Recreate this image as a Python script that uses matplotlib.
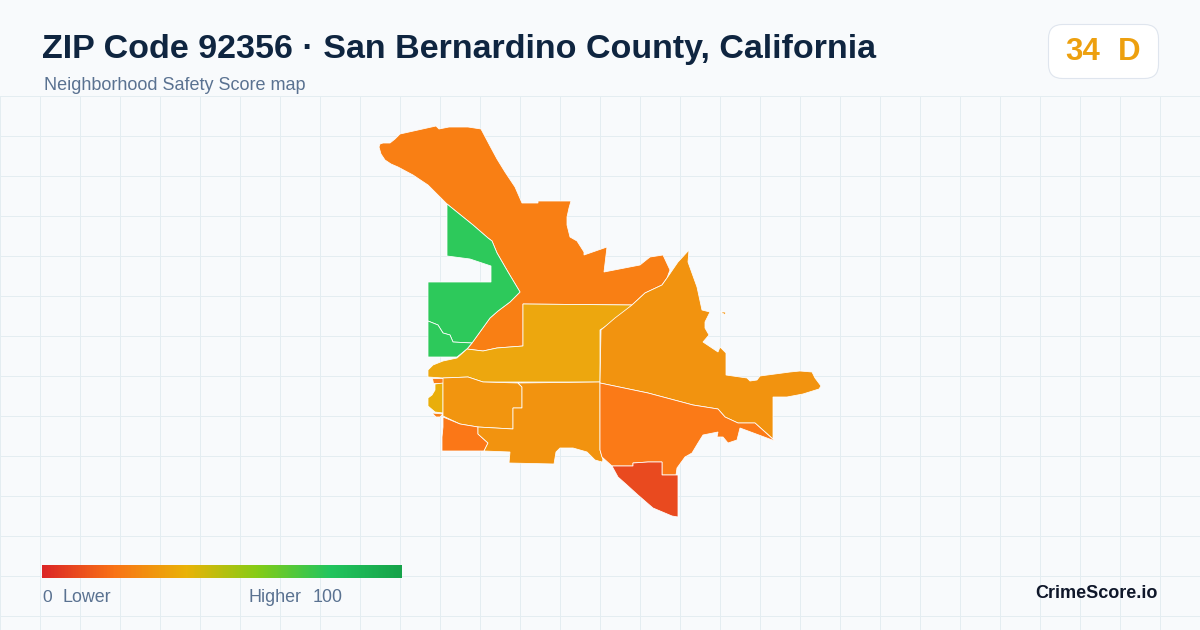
import numpy as np
import matplotlib
matplotlib.use("Agg")
import matplotlib.pyplot as plt
from matplotlib.colors import LinearSegmentedColormap
from matplotlib.patches import FancyBboxPatch, Polygon

plt.rcParams['font.family'] = ['Liberation Sans', 'DejaVu Sans']

TITLE = "ZIP Code 92356 · San Bernardino County, California"
SUBTITLE = "Neighborhood Safety Score map"
SCORE = 34
GRADE = "D"
BRAND = "CrimeScore.io"

# map outlines (x, y in image pixels)
north = [(379,147),(380,144),(383,143),(390,143),(395,139),(400,134),(418,130),(436,126),(439,129),(449,127),
         (468,127),(481,129),(490,146),(497,159),(505,172),(515,187),(522,203),(538,203),(538,201),(571,201),
         (569,208),(567,217),(567,225),(570,237),(577,241),(584,252),(584,255),(607,247),(604,272),(640,265),
         (650,257),(663,255),(670,270),(667,278),(662,285),(645,293),(632,305),(523,304),(523,346),(497,348),
         (483,351),(467,349),(472,343),(490,318),(498,311),(510,302),(520,292),(508,272),(497,253),(492,241),
         (488,238),(473,225),(447,204),(428,185),(413,175),(398,167),(391,164),(385,160),(381,154)]
green_north = [(447,204),(473,225),(488,238),(492,241),(497,253),(508,272),(520,292),(510,302),(498,311),(490,318),
               (472,343),(453,342),(450,335),(443,333),(438,325),(428,321),(428,282),(491,282),(491,266),(470,259),
               (447,256)]
green_south = [(428,321),(438,325),(443,333),(450,335),(453,342),(472,343),(467,349),(457,357),(444,357),(428,357)]
center = [(523,304),(632,305),(620,317),(600,330),(600,382),(483,382),(468,377),(443,378),(428,377),(428,370),
          (433,365),(443,361),(457,358),(467,349),(483,351),(497,348),(523,346)]
west_sliver = [(432,378),(443,378),(443,383),(433,383)]
west_yellow = [(435,384),(443,383),(443,413),(435,412),(428,406),(428,398),(432,395),(435,390)]
west_tiny = [(432,413),(443,414),(440,417),(436,417)]
west = [(443,378),(468,377),(483,382),(518,383),(522,387),(522,408),(513,408),(513,429),(478,427),(460,424),(443,416)]
southwest = [(443,417),(460,424),(478,427),(478,434),(488,443),(484,451),(442,451),(442,437),(443,427)]
south = [(518,383),(600,382),(600,450),(603,460),(602,462),(595,460),(587,452),(573,448),(560,448),(556,452),
         (554,464),(509,463),(510,452),(484,451),(488,443),(478,434),(478,427),(513,429),(513,408),(522,408),(522,387)]
east = [(601,330),(615,318),(632,305),(645,293),(662,285),(667,278),(678,262),(689,250),(688,262),(697,287),
        (702,310),(710,312),(705,322),(705,328),(709,335),(703,342),(718,352),(720,347),(726,353),(726,375),
        (733,376),(747,378),(750,381),(757,380),(760,376),(790,372),(800,371),(812,372),(815,378),(821,386),
        (819,389),(803,394),(787,397),(773,397),(773,439),(755,423),(738,423),(725,417),(718,409),(693,405),
        (648,393),(600,383)]
east_island = [(720,312),(725,312),(726,315),(722,313)]
southeast = [(600,383),(648,393),(693,405),(718,409),(725,417),(738,423),(755,423),(775,441),(740,428),(737,440),
             (728,443),(723,437),(717,437),(718,432),(703,435),(698,443),(692,453),(685,457),(677,468),(676,475),
             (662,475),(662,462),(648,462),(633,463),(633,466),(612,466),(602,457),(600,450)]
far_south = [(612,466),(633,466),(633,463),(648,462),(662,462),(662,475),(678,475),(678,517),(672,516),(653,508),
             (638,495),(627,485),(618,477)]

regions = [north, green_north, green_south, center, west_sliver, west_yellow, west_tiny, west,
           southwest, south, east, east_island, southeast, far_south]
region_colors = ["#F97F14", "#2DC95B", "#2DC95B", "#EDA70E", "#F9801A", "#E9AE0B", "#F9801A", "#F2950F",
                 "#FB7717", "#F2930F", "#F2930F", "#F2930F", "#FB7A17", "#E94A1F"]

# legend scale
legend_stops = [0.0, 0.2, 0.4, 0.6, 0.8, 1.0]
legend_colors = ["#DC2626", "#F97316", "#EAB308", "#84CC16", "#22C55E", "#16A34A"]

fig = plt.figure(figsize=(12, 6.3), dpi=100, facecolor="#F8FAFC")
ax = fig.add_axes([0, 0, 1, 1])
ax.set_xlim(0, 1200)
ax.set_ylim(630, 0)
ax.axis("off")

# background grid, starts under the header
for x in np.arange(0.5, 1200, 40):
    ax.plot([x, x], [97, 630], color="#E4EDF1", lw=0.72, zorder=1, snap=False)
for y in np.arange(96.5, 630, 40):
    ax.plot([0, 1200], [y, y], color="#E4EDF1", lw=0.72, zorder=1, snap=False)

for pts, col in zip(regions, region_colors):
    ax.add_patch(Polygon(pts, closed=True, facecolor=col, edgecolor="white", lw=0.55, zorder=2))

ax.text(42, 49.5, TITLE, fontsize=24.5, fontweight="bold", color="#0F2540", va="center", ha="left", zorder=5)
ax.text(44, 85, SUBTITLE, fontsize=12.95, color="#5A7291", va="center", ha="left", zorder=5)

badge = FancyBboxPatch((1048.5, 24.5), 110, 54, boxstyle="round,pad=0,rounding_size=14",
                       facecolor="white", edgecolor="#DFE5EE", lw=0.8, zorder=4)
ax.add_patch(badge)
ax.text(1065, 52, str(SCORE), fontsize=22.5, fontweight="bold", color="#EDA00F", va="center", ha="left", zorder=5)
ax.text(1118, 52, GRADE, fontsize=22.5, fontweight="bold", color="#EDA00F", va="center", ha="left", zorder=5)

cmap = LinearSegmentedColormap.from_list("safety", list(zip(legend_stops, legend_colors)))
ax.imshow(np.linspace(0, 1, 360).reshape(1, -1), cmap=cmap, extent=(42, 402, 578, 565), aspect="auto", zorder=3)
ax.set_xlim(0, 1200)
ax.set_ylim(630, 0)

ax.text(42, 597, "0", fontsize=12.6, color="#5A7291", va="center", ha="left", zorder=5)
ax.text(62, 597, "Lower", fontsize=12.9, color="#5A7291", va="center", ha="left", zorder=5)
ax.text(249, 597, "Higher", fontsize=12.9, color="#5A7291", va="center", ha="left", zorder=5)
ax.text(313, 597, "100", fontsize=12.9, color="#5A7291", va="center", ha="left", zorder=5)
ax.text(1158, 593, BRAND, fontsize=13, fontweight="bold", color="#0F172A", va="center", ha="right", zorder=5)

fig.savefig("out.png", dpi=100, facecolor=fig.get_facecolor())
